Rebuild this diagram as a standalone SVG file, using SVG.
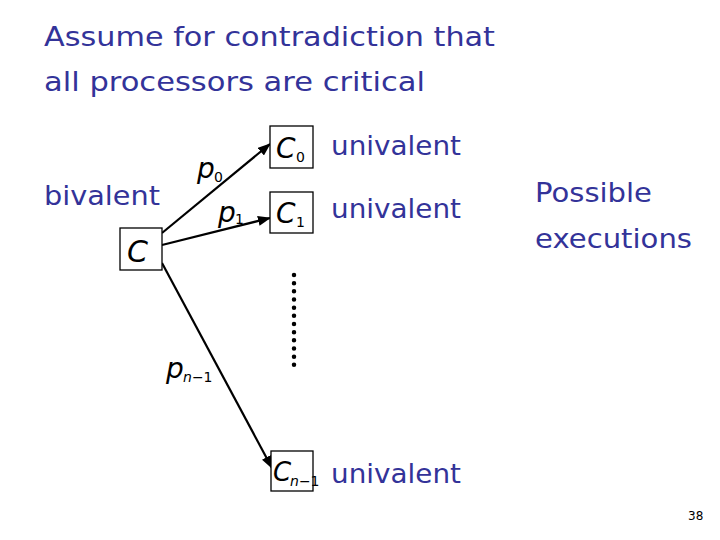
<svg xmlns="http://www.w3.org/2000/svg" width="720" height="540" viewBox="0 0 720 540">
<style>
.t{font-family:"DejaVu Sans",sans-serif;fill:#333399;font-size:27px}
.box{fill:#fff;stroke:#000;stroke-width:1.3}
.m{font-family:"DejaVu Sans",sans-serif;font-style:italic;fill:#000}
.sub{font-family:"DejaVu Sans",sans-serif;fill:#000;font-size:14px}
.i{font-style:italic}
.e{stroke:#000;stroke-width:2.2;fill:none;marker-end:url(#ah)}
</style>
<defs>
<marker id="ah" markerWidth="13" markerHeight="10" refX="12" refY="5" orient="auto" markerUnits="userSpaceOnUse">
<path d="M0,0 L13,5 L0,10 Z" fill="#000"/>
</marker>
</defs>
<rect width="720" height="540" fill="#fff"/>
<g id="title">
<text class="t" x="44" y="46" textLength="451" lengthAdjust="spacingAndGlyphs">Assume for contradiction that</text>
<text class="t" x="44" y="91" textLength="381" lengthAdjust="spacingAndGlyphs">all processors are critical</text>
</g>
<g id="connectors">
<line class="e" x1="162" y1="233" x2="270" y2="144"/>
<line class="e" x1="162" y1="245" x2="270" y2="218"/>
<line class="e" x1="162" y1="263" x2="272" y2="468"/>
<line x1="294" y1="275" x2="294" y2="373" stroke="#000" stroke-width="4.5" stroke-linecap="round" stroke-dasharray="0 8.17"/>
<text class="m" x="197" y="178" font-size="28">p</text><text class="sub" x="214" y="182">0</text>
<text class="m" x="218" y="222" font-size="28">p</text><text class="sub" x="235" y="224">1</text>
<text class="m" x="166" y="378" font-size="28">p</text><text class="sub" x="183" y="382"><tspan class="i">n</tspan>−1</text>
</g>
<g id="C">
<rect class="box" x="120" y="228" width="42" height="42"/>
<text class="m" x="127" y="262" font-size="30">C</text>
<text class="t" x="44" y="205" textLength="116" lengthAdjust="spacingAndGlyphs">bivalent</text>
</g>
<g id="C0">
<rect class="box" x="270" y="126" width="43" height="42"/>
<text class="m" x="276" y="158" font-size="28">C</text><text class="sub" x="296" y="162">0</text>
<text class="t" x="331" y="155" textLength="130" lengthAdjust="spacingAndGlyphs">univalent</text>
</g>
<g id="C1">
<rect class="box" x="270" y="192" width="43" height="41"/>
<text class="m" x="276" y="223" font-size="28">C</text><text class="sub" x="296" y="227">1</text>
<text class="t" x="331" y="218" textLength="130" lengthAdjust="spacingAndGlyphs">univalent</text>
</g>
<g id="Cn1">
<rect class="box" x="271" y="451" width="42" height="40"/>
<text class="m" x="273" y="481" font-size="26">C</text><text class="sub" x="290" y="486" font-size="13"><tspan class="i">n</tspan>−1</text>
<text class="t" x="331" y="483" textLength="130" lengthAdjust="spacingAndGlyphs">univalent</text>
</g>
<g id="note">
<text class="t" x="535" y="202" textLength="117" lengthAdjust="spacingAndGlyphs">Possible</text>
<text class="t" x="535" y="248" textLength="157" lengthAdjust="spacingAndGlyphs">executions</text>
</g>
<text x="688" y="520" font-family="DejaVu Sans,sans-serif" font-size="12" fill="#000">38</text>
</svg>
